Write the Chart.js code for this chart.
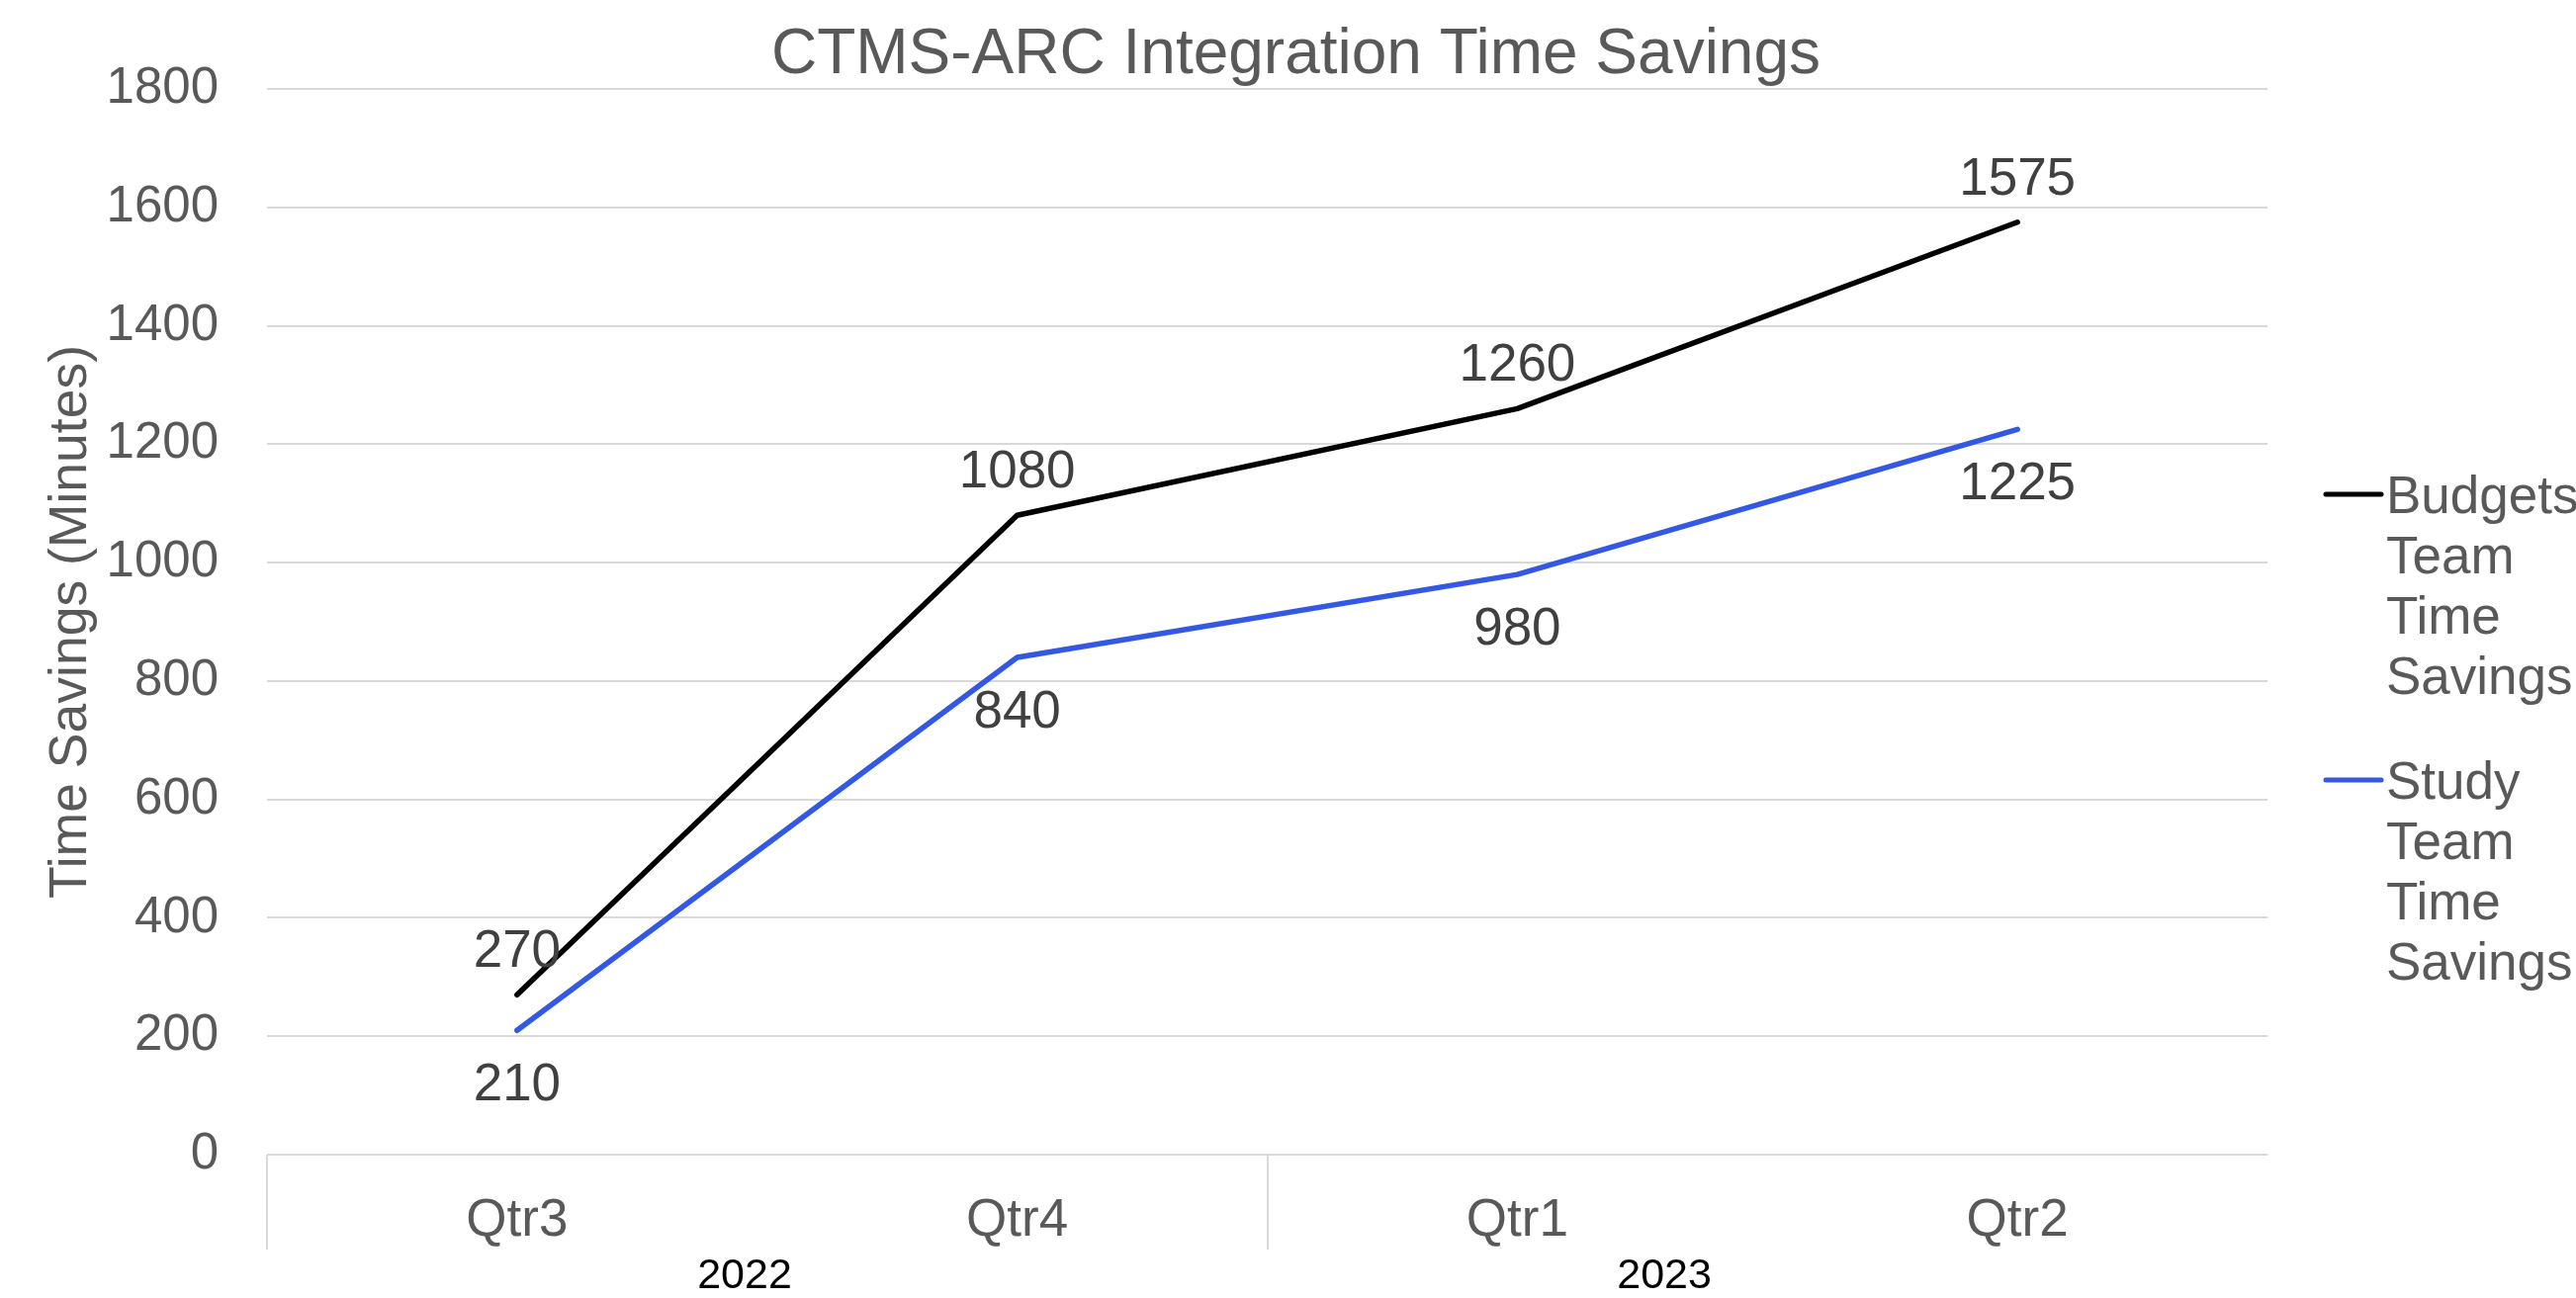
<!DOCTYPE html>
<html>
<head>
<meta charset="utf-8">
<script src="https://cdn.jsdelivr.net/npm/chart.js@4/dist/chart.umd.min.js"></script>
<style>
html, body { margin: 0; padding: 0; background: #ffffff; }
#wrap { width: 2605px; height: 1313px; }
</style>
</head>
<body>
<div id="wrap"><canvas id="c" width="2605" height="1313"></canvas></div>
<script>
// ---- data ----
const quarters = ['Qtr3', 'Qtr4', 'Qtr1', 'Qtr2'];
const years = ['2022', '2023'];
const yearTickPos = [0.955, 2.794];          // where the year labels sit along the quarter axis (band units)
const budgetsSavings = [270, 1080, 1260, 1575];
const studySavings = [210, 840, 980, 1225];
const seriesNames = ['Budgets Team Time Savings', 'Study Team Time Savings'];
const yTicks = { min: 0, max: 1800, step: 200 };
const chartTitle = 'CTMS-ARC Integration Time Savings';
const yTitle = 'Time Savings (Minutes)';

const FONT = "'Liberation Sans', Arial, sans-serif";
const GRAY = '#595959';
const GRID = '#d9d9d9';
const colors = ['#000000', '#3358E6'];
const labelSide = ['above', 'below'];

const dataLabels = {
  id: 'dataLabels',
  afterDatasetsDraw(chart) {
    const ctx = chart.ctx;
    ctx.save();
    ctx.font = '53px ' + FONT;
    ctx.fillStyle = '#404040';
    ctx.textAlign = 'center';
    ctx.textBaseline = 'alphabetic';
    chart.data.datasets.forEach((ds, di) => {
      const meta = chart.getDatasetMeta(di);
      meta.data.forEach((pt, i) => {
        const y = labelSide[di] === 'above' ? pt.y - 28 : pt.y + 71;
        ctx.fillText(String(ds.data[i]), pt.x, y);
      });
    });
    ctx.restore();
  }
};

const sideLegend = {
  id: 'sideLegend',
  afterDraw(chart) {
    const ctx = chart.ctx;
    const ca = chart.chartArea;
    const midY = (ca.top + ca.bottom) / 2;
    const startY = [midY - 129, midY + 160];
    ctx.save();
    ctx.font = '53px ' + FONT;
    ctx.textAlign = 'left';
    ctx.textBaseline = 'alphabetic';
    chart.data.datasets.forEach((ds, di) => {
      const y0 = startY[di];
      ctx.strokeStyle = ds.borderColor;
      ctx.lineWidth = 5;
      ctx.lineCap = 'round';
      ctx.beginPath();
      ctx.moveTo(ca.right + 59, y0);
      ctx.lineTo(ca.right + 115, y0);
      ctx.stroke();
      ctx.fillStyle = GRAY;
      ds.label.split(' ').forEach((w, k) => {
        ctx.fillText(w, ca.right + 120, y0 + 19 + k * 61);
      });
    });
    ctx.restore();
  }
};

new Chart(document.getElementById('c'), {
  type: 'line',
  data: {
    labels: quarters,
    datasets: [
      { label: seriesNames[0], data: budgetsSavings, borderColor: colors[0], backgroundColor: colors[0] },
      { label: seriesNames[1], data: studySavings, borderColor: colors[1], backgroundColor: colors[1] }
    ]
  },
  options: {
    responsive: false,
    animation: false,
    devicePixelRatio: 1,
    layout: { padding: { left: 16, right: 0, top: 0, bottom: 0 } },
    elements: {
      line: { borderWidth: 5.5, tension: 0, borderCapStyle: 'round', borderJoinStyle: 'round', fill: false },
      point: { radius: 0, hoverRadius: 0 }
    },
    plugins: {
      legend: { display: false },
      tooltip: { enabled: false },
      title: {
        display: true,
        text: chartTitle,
        color: GRAY,
        font: { family: FONT, size: 64, weight: 'normal', lineHeight: 1 },
        padding: { top: 24, bottom: 2 }
      }
    },
    scales: {
      x: {
        type: 'category',
        position: 'bottom',
        offset: true,
        weight: 0,
        border: { display: false },
        grid: {
          offset: true,
          drawOnChartArea: false,
          drawTicks: true,
          tickLength: 96,
          lineWidth: 2,
          color: (c) => (c.index % 2 === 0 ? GRID : 'rgba(0,0,0,0)')
        },
        ticks: {
          color: GRAY,
          font: { family: FONT, size: 53 },
          padding: -60,
          maxRotation: 0,
          autoSkip: false
        },
        afterFit: (s) => { s.height = 100; }
      },
      x2: {
        type: 'linear',
        position: 'bottom',
        weight: 1,
        min: 0,
        max: quarters.length,
        offset: false,
        border: { display: false },
        grid: { display: false },
        afterBuildTicks: (s) => { s.ticks = yearTickPos.map(v => ({ value: v })); },
        ticks: {
          color: '#000000',
          font: { family: FONT, size: 43 },
          padding: -11,
          maxRotation: 0,
          autoSkip: false,
          callback: (v, i) => years[i]
        },
        afterFit: (s) => { s.height = 45; }
      },
      y: {
        type: 'linear',
        position: 'left',
        min: yTicks.min,
        max: yTicks.max,
        border: { display: false },
        grid: { color: GRID, lineWidth: 2, drawTicks: false },
        ticks: {
          stepSize: yTicks.step,
          color: GRAY,
          font: { family: FONT, size: 51 },
          padding: 49,
          callback: (v) => String(v)
        },
        title: {
          display: true,
          text: yTitle,
          color: GRAY,
          font: { family: FONT, size: 53.5, lineHeight: 1.2 },
          padding: { top: 24, bottom: 0 }
        },
        afterFit: (s) => { s.width = 254; }
      },
      yRight: {
        type: 'linear',
        position: 'right',
        display: true,
        border: { display: false },
        grid: { display: false },
        ticks: { display: false },
        afterFit: (s) => { s.width = 312; }
      }
    }
  },
  plugins: [dataLabels, sideLegend]
});
</script>
</body>
</html>
